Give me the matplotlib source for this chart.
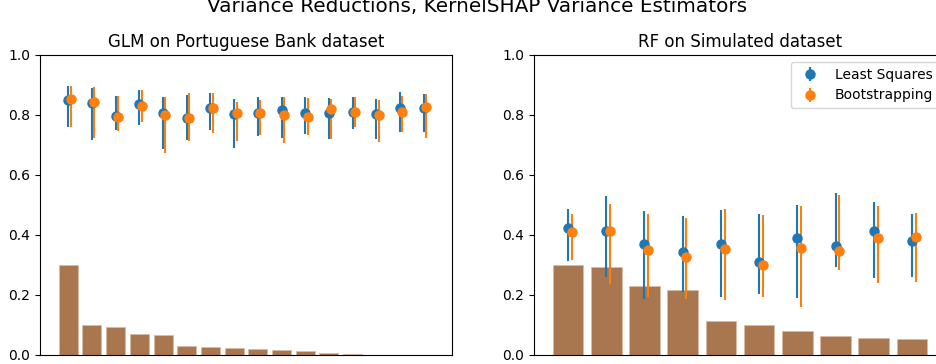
import numpy as np
import matplotlib
matplotlib.use("Agg")
import matplotlib.pyplot as plt

# GLM on Portuguese Bank dataset (16 features)
glm_bars = [0.300, 0.101, 0.094, 0.069, 0.066, 0.030, 0.027, 0.023,
            0.020, 0.017, 0.013, 0.006, 0.002, 0.001, 0.001, 0.0005]
glm_ls_mid = [0.850, 0.841, 0.798, 0.836, 0.808, 0.791, 0.824, 0.802,
              0.806, 0.817, 0.806, 0.806, 0.811, 0.802, 0.822, 0.822]
glm_ls_low = [0.761, 0.717, 0.750, 0.767, 0.688, 0.717, 0.750, 0.689,
              0.730, 0.722, 0.736, 0.719, 0.752, 0.719, 0.742, 0.742]
glm_ls_high = [0.898, 0.889, 0.864, 0.883, 0.861, 0.868, 0.874, 0.852,
               0.859, 0.861, 0.861, 0.857, 0.861, 0.854, 0.877, 0.870]
glm_bs_mid = [0.852, 0.844, 0.794, 0.830, 0.799, 0.789, 0.822, 0.806,
              0.806, 0.799, 0.792, 0.821, 0.811, 0.799, 0.811, 0.826]
glm_bs_low = [0.759, 0.722, 0.748, 0.778, 0.674, 0.712, 0.741, 0.712,
              0.732, 0.706, 0.732, 0.719, 0.759, 0.710, 0.742, 0.722]
glm_bs_high = [0.898, 0.893, 0.864, 0.883, 0.861, 0.874, 0.872, 0.842,
               0.850, 0.861, 0.857, 0.853, 0.861, 0.850, 0.864, 0.870]

# RF on Simulated dataset (10 features)
rf_bars = [0.300, 0.293, 0.231, 0.218, 0.113, 0.100, 0.079, 0.062, 0.056, 0.052]
rf_ls_mid = [0.422, 0.414, 0.369, 0.343, 0.369, 0.311, 0.389, 0.363, 0.412, 0.381]
rf_ls_low = [0.313, 0.261, 0.187, 0.211, 0.194, 0.202, 0.189, 0.292, 0.257, 0.259]
rf_ls_high = [0.487, 0.530, 0.481, 0.464, 0.484, 0.471, 0.500, 0.539, 0.510, 0.469]
rf_bs_mid = [0.409, 0.414, 0.350, 0.328, 0.352, 0.301, 0.357, 0.347, 0.389, 0.392]
rf_bs_low = [0.316, 0.238, 0.192, 0.186, 0.183, 0.194, 0.160, 0.283, 0.241, 0.244]
rf_bs_high = [0.471, 0.503, 0.471, 0.458, 0.487, 0.468, 0.497, 0.533, 0.497, 0.474]


def panel(ax, bars, ls, bs, title, legend=False):
    x = np.arange(len(bars))
    ax.bar(x, bars, width=0.8, color='#a8764f', edgecolor='#d9bca5', linewidth=0.6, zorder=1)
    for (mid, low, high), dx, c, lab in [(ls, 0.0, 'tab:blue', 'Least Squares'),
                                         (bs, 0.1, 'tab:orange', 'Bootstrapping')]:
        mid = np.array(mid)
        err = [mid - np.array(low), np.array(high) - mid]
        ax.errorbar(x + dx, mid, yerr=err, fmt='o', color=c, ms=6.5,
                    elinewidth=1.5, label=lab, zorder=3)
    ax.set_ylim(0, 1.0)
    ax.set_xticks([])
    ax.set_title(title, fontsize=12)
    if legend:
        ax.legend(loc='upper right', fontsize=10)


fig = plt.figure(figsize=(9.37, 3.64), dpi=100)
ax1 = fig.add_axes([40 / 937, 9 / 364, 412 / 937, 300 / 364])
ax2 = fig.add_axes([534 / 937, 9 / 364, 412 / 937, 300 / 364])

panel(ax1, glm_bars, (glm_ls_mid, glm_ls_low, glm_ls_high),
      (glm_bs_mid, glm_bs_low, glm_bs_high), 'GLM on Portuguese Bank dataset')
panel(ax2, rf_bars, (rf_ls_mid, rf_ls_low, rf_ls_high),
      (rf_bs_mid, rf_bs_low, rf_bs_high), 'RF on Simulated dataset', legend=True)

# suptitle is partly cut off at the top in the original
fig.text(477 / 937, 1 - 12 / 364, 'Variance Reductions, KernelSHAP Variance Estimators',
         ha='center', va='baseline', fontsize=14.4)

fig.savefig('out.png', dpi=100)
